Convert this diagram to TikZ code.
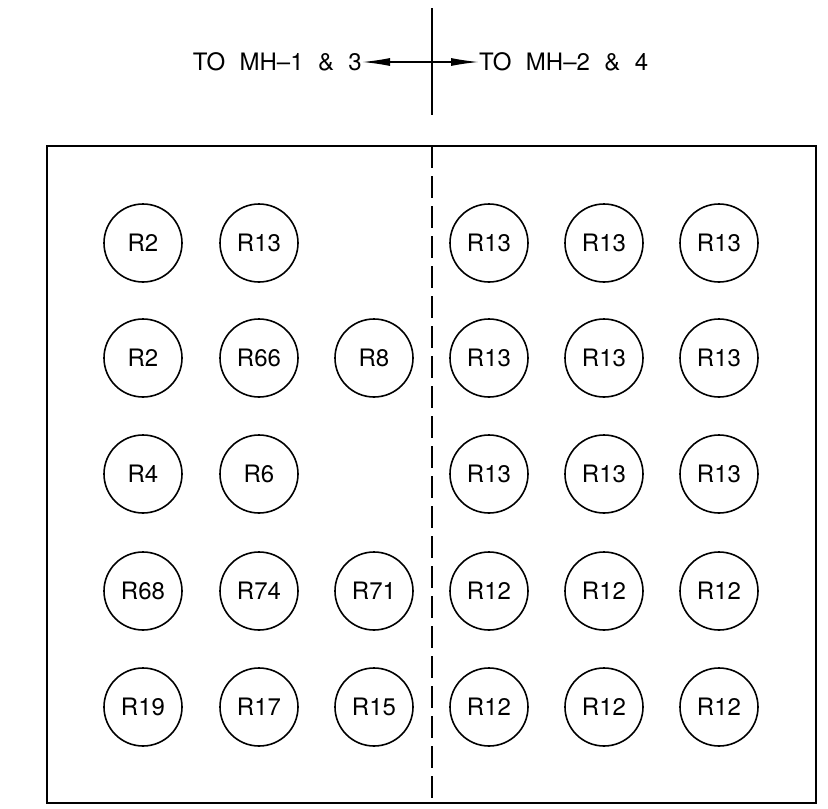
\documentclass[tikz,border=0pt]{standalone}
\usepackage{fontspec}
\setmainfont{TeX Gyre Heros}
\usetikzlibrary{arrows.meta}
\begin{document}
\begin{tikzpicture}[x=1pt,y=-1pt,
  hole/.style={circle,draw,line width=1.6pt,minimum size=78pt,inner sep=0pt,font=\fontsize{24}{26}\selectfont},
  lbl/.style={font=\fontsize{24}{26}\selectfont,inner sep=0pt},
  ln/.style={line width=1.6pt},
  arr/.style={line width=1.4pt,-{Latex[length=28pt,width=8pt]}}]
\useasboundingbox (0,0) rectangle (828,809);
% outer box
\draw[ln] (47,146) rectangle (816,803);
% dashed divider
\coordinate (dtop) at (432,146);
\coordinate (dbot) at (432,803);
\draw[ln,dash pattern=on 22pt off 8pt] (dtop) -- (dbot);
% top marker line
\coordinate (vt) at (432,8);
\coordinate (vb) at (432,115);
\draw[line width=1.2pt] (vt) -- (vb);
\coordinate (c) at (432,62);
\node[lbl,anchor=east] (lt) at (362,62) {TO\hspace{0.6em}MH--1\hspace{0.6em}\&\hspace{0.6em}3};
\node[lbl,anchor=west] (rt) at (479,62) {TO\hspace{0.6em}MH--2\hspace{0.6em}\&\hspace{0.6em}4};
\draw[arr] (c) -- (lt.east);
\draw[arr] (c) -- (rt.west);
% circles
\foreach \n/\x/\y/\t in {
 a1/143/243/R2, a2/259/243/R13,
 a4/489/243/R13, a5/604/243/R13, a6/719/243/R13,
 b1/143/358/R2, b2/259/358/R66, b3/374/358/R8,
 b4/489/358/R13, b5/604/358/R13, b6/719/358/R13,
 c1/143/474/R4, c2/259/474/R6,
 c4/489/474/R13, c5/604/474/R13, c6/719/474/R13,
 d1/143/591/R68, d2/259/591/R74, d3/374/591/R71,
 d4/489/591/R12, d5/604/591/R12, d6/719/591/R12,
 e1/143/707/R19, e2/259/707/R17, e3/374/707/R15,
 e4/489/707/R12, e5/604/707/R12, e6/719/707/R12}
 \node[hole] (\n) at (\x,\y) {\t};
\end{tikzpicture}
\end{document}
